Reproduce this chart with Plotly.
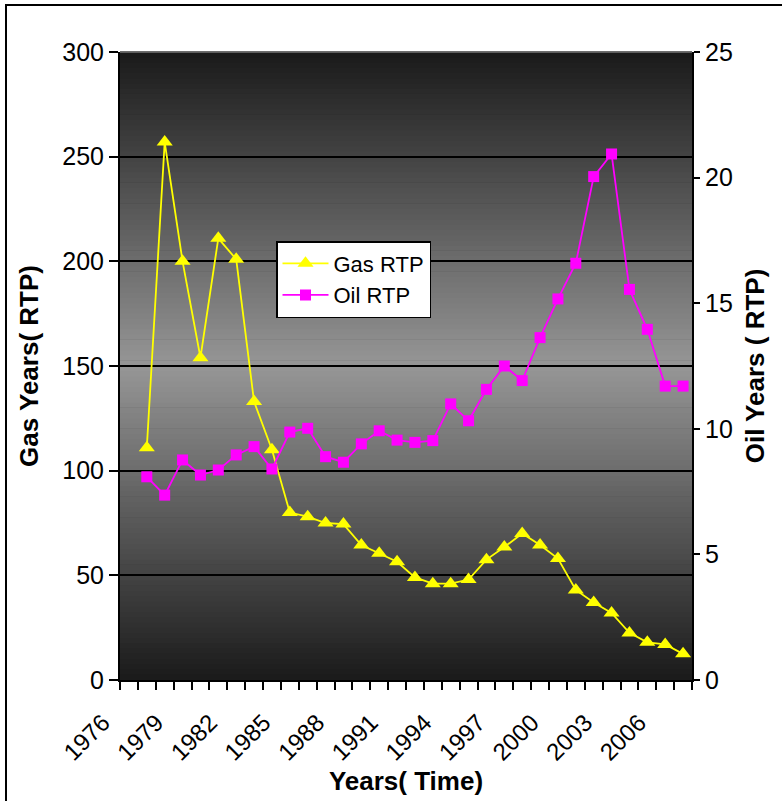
import plotly.graph_objects as go

years = list(range(1977, 2008))
gas_rtp = [111, 257, 200, 154, 211, 201, 133, 110, 80, 78, 75, 74.5, 64.5, 60.5, 56.5,
           49, 46, 46, 48, 57.5, 63.5, 70, 64.5, 58, 43, 37, 32, 22.5, 18, 17, 12.5]
oil_rtp = [8.09, 7.36, 8.76, 8.16, 8.36, 8.96, 9.29, 8.40, 9.87, 10.02, 8.89, 8.67, 9.40,
           9.92, 9.55, 9.46, 9.53, 10.99, 10.32, 11.57, 12.50, 11.92, 13.63, 15.17, 16.59,
           20.04, 20.94, 15.55, 13.96, 11.70, 11.70]
label_years = list(range(1976, 2007, 3))
label_text = [str(y) for y in label_years]

FONT = "Liberation Sans, Arial, sans-serif"

fig = go.Figure()
fig.add_trace(go.Scatter(
    x=years, y=gas_rtp, name="Gas RTP", mode="lines+markers",
    line=dict(color="#FFFF00", width=1.8),
    marker=dict(symbol="triangle-up", size=14, color="#FFFF00"),
    yaxis="y"))
fig.add_trace(go.Scatter(
    x=years, y=oil_rtp, name="Oil RTP", mode="lines+markers",
    line=dict(color="#FF00FF", width=1.8),
    marker=dict(symbol="square", size=11, color="#FF00FF"),
    yaxis="y2"))

# gradient background of plot area
shapes = []
N = 120
for i in range(N):
    t = (i + 0.5) / N
    v = int(round(26 + (150 - 26) * (1 - abs(2 * t - 1))))
    shapes.append(dict(type="rect", xref="paper", yref="paper", x0=0, x1=1,
                       y0=i / N, y1=(i + 1) / N + 0.001, fillcolor=f"rgb({v},{v},{v})",
                       line=dict(width=0), layer="below"))
# top plot-area edge
shapes.append(dict(type="line", xref="paper", yref="paper", x0=0, x1=1, y0=1, y1=1,
                   line=dict(color="#777777", width=1.5), layer="above"))
# outer chart border
shapes.append(dict(type="rect", xref="paper", yref="paper",
                   x0=(6 - 120) / 572, x1=(1000 - 120) / 572,
                   y0=-(1000 - 680) / 628, y1=1 + (52 - 5) / 628,
                   line=dict(color="black", width=2), fillcolor="rgba(0,0,0,0)", layer="above"))

fig.update_layout(
    width=782, height=801,
    margin=dict(l=120, r=90, t=52, b=121),
    paper_bgcolor="white", plot_bgcolor="#1c1c1c",
    font=dict(family=FONT, size=22, color="black"),
    shapes=shapes,
    showlegend=True,
    legend=dict(x=(276 - 120) / 572, y=(680 - 241) / 628, xanchor="left", yanchor="top",
                bgcolor="white", bordercolor="black", borderwidth=1.5, itemwidth=46,
                font=dict(family=FONT, size=22, color="black")),
    xaxis=dict(
        range=[1975.5, 2007.5], automargin=False,
        tickmode="array", tickvals=label_years, ticktext=label_text,
        tickangle=-45, ticks="", showgrid=False, zeroline=False,
        ticklabelshift=-26, ticklabelstandoff=17,
        showline=True, linecolor="black", linewidth=2,
        tickfont=dict(family=FONT, size=24),
        minor=dict(tickmode="linear", tick0=1975.5, dtick=1, ticks="outside",
                   ticklen=8, tickcolor="black", tickwidth=1.5, showgrid=False),
        title=dict(text="<b>Years( Time)</b>", font=dict(family=FONT, size=26), standoff=4),
    ),
    yaxis=dict(
        range=[0, 300], dtick=50, automargin=False,
        ticks="outside", ticklen=9, tickcolor="black", tickwidth=1.5,
        showline=True, linecolor="black", linewidth=2,
        showgrid=True, gridcolor="black", gridwidth=1.5, zeroline=False,
        tickfont=dict(family=FONT, size=25),
        title=dict(text="<b>Gas Years( RTP)</b>", font=dict(family=FONT, size=26), standoff=16),
    ),
    yaxis2=dict(
        range=[0, 25], dtick=5, overlaying="y", side="right", automargin=False,
        ticks="outside", ticklen=6, tickcolor="black", tickwidth=1.5,
        showline=True, linecolor="black", linewidth=2,
        showgrid=False, zeroline=False,
        tickfont=dict(family=FONT, size=25),
        title=dict(text="<b>Oil Years ( RTP)</b>", font=dict(family=FONT, size=26), standoff=14),
    ),
)

fig.write_html("out.html")
